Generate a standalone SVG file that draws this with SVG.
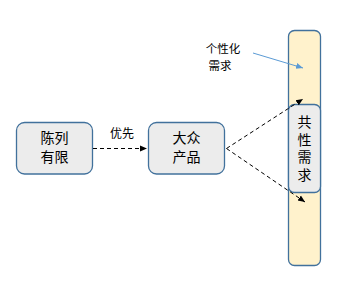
<svg xmlns="http://www.w3.org/2000/svg" width="350" height="289" viewBox="0 0 350 289">
<style>
.box{fill:#ececec;stroke:#41719c;stroke-width:1.3}
.tall{fill:#fff2cc;stroke:#41719c;stroke-width:1.3}
.t{font-family:"Noto Sans CJK SC","Liberation Sans",sans-serif;fill:#000;text-anchor:middle}
.b{font-size:14px}
.s{font-size:12px}
.l{font-size:11.5px}
.v{writing-mode:vertical-rl;letter-spacing:3.8px}
.dash{fill:none;stroke:#000;stroke-width:1;stroke-dasharray:4,3}
</style>
<defs>
<marker id="ah" markerWidth="8" markerHeight="8" refX="7" refY="4" orient="auto" markerUnits="userSpaceOnUse">
<path d="M0,1 L7,4 L0,7 Z" fill="#000"/>
</marker>
<marker id="ahb" markerWidth="8" markerHeight="8" refX="7" refY="4" orient="auto" markerUnits="userSpaceOnUse">
<path d="M0,1 L7,4 L0,7 Z" fill="#5b9bd5"/>
</marker>
</defs>
<g id="demand-bar">
<rect class="tall" x="288.5" y="30.5" width="32" height="235" rx="6"/>
</g>
<g id="limited">
<rect class="box" x="16.5" y="122.5" width="76" height="51.5" rx="8"/>
<text class="t b" x="54.5" y="143">陈列</text>
<text class="t b" x="54.5" y="162">有限</text>
</g>
<g id="mass">
<rect class="box" x="148.5" y="122.5" width="76" height="51.5" rx="8"/>
<text class="t b" x="186.5" y="143">大众</text>
<text class="t b" x="186.5" y="162">产品</text>
</g>
<g id="common">
<rect class="box" x="288.5" y="104.5" width="32" height="88" rx="6"/>
<text class="t b v" x="304.5" y="150">共性需求</text>
</g>
<g id="personal-label">
<text class="t l" x="223" y="53">个性化</text>
<text class="t l" x="220" y="70">需求</text>
</g>
<g id="connectors">
<line class="dash" x1="93" y1="148.5" x2="147" y2="148.5" marker-end="url(#ah)"/>
<text class="t s" x="122" y="138">优先</text>
<line class="dash" x1="226.5" y1="148.5" x2="303" y2="99" marker-end="url(#ah)"/>
<line class="dash" x1="226.5" y1="148.5" x2="305" y2="202" marker-end="url(#ah)"/>
<line x1="253" y1="53" x2="303" y2="68" stroke="#5b9bd5" stroke-width="1" marker-end="url(#ahb)"/>
</g>
</svg>
